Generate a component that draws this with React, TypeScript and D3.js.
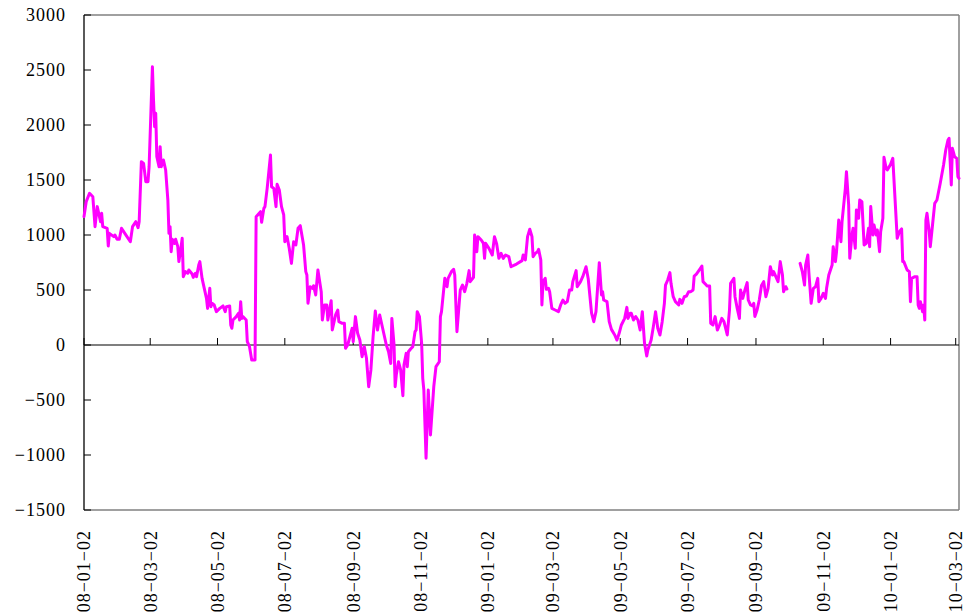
import React from 'react';
import * as d3 from 'd3';

// 2008
const dates2008 = [
  '01-02', '01-04', '01-07', '01-10', '01-12', '01-14', '01-17', '01-18', '01-19', '01-23', '01-24', '01-25', '01-29', '01-30',
  '02-01', '02-03', '02-05', '02-08', '02-13', '02-15', '02-18', '02-20', '02-21', '02-23', '02-25', '02-27', '02-29',
  '03-01', '03-04', '03-05', '03-06', '03-07', '03-08', '03-10', '03-11', '03-12', '03-14', '03-16', '03-18', '03-19', '03-20',
  '03-21', '03-22', '03-24', '03-25', '03-27', '03-28', '03-30', '03-31',
  '04-01', '04-03', '04-05', '04-06', '04-09', '04-10', '04-12', '04-13', '04-15', '04-16', '04-18', '04-20', '04-22', '04-23',
  '04-25', '04-26', '04-27', '04-29',
  '05-01', '05-04', '05-07', '05-09', '05-10', '05-13', '05-14', '05-15', '05-16', '05-19', '05-21', '05-22', '05-23', '05-24',
  '05-25', '05-28', '05-29', '05-31',
  '06-02', '06-03', '06-05', '06-06', '06-10', '06-11', '06-13', '06-14', '06-16', '06-19', '06-20', '06-22', '06-24', '06-25',
  '06-27', '06-29',
  '07-01', '07-02', '07-04', '07-06', '07-08', '07-10', '07-12', '07-14', '07-16', '07-19', '07-21', '07-22', '07-23', '07-25',
  '07-27', '07-28', '07-30',
  '08-01', '08-04', '08-05', '08-07', '08-09', '08-10', '08-13', '08-14', '08-17', '08-19', '08-20', '08-23', '08-25', '08-26',
  '08-28', '08-30',
  '09-01', '09-02', '09-04', '09-06', '09-08', '09-10', '09-12', '09-14', '09-16', '09-18', '09-20', '09-22', '09-24', '09-26',
  '09-28', '09-30',
  '10-02', '10-04', '10-06', '10-07', '10-09', '10-10', '10-11', '10-13', '10-15', '10-17', '10-18', '10-20', '10-21', '10-22',
  '10-24', '10-26', '10-28', '10-29', '10-30',
  '11-01', '11-03', '11-04', '11-05', '11-07', '11-09', '11-11', '11-14', '11-16', '11-19', '11-20', '11-21', '11-24', '11-26',
  '11-27', '11-30',
  '12-02', '12-03', '12-05', '12-08', '12-10', '12-12', '12-14', '12-16', '12-17', '12-20', '12-21', '12-23', '12-24', '12-27',
  '12-29', '12-30', '12-31',
];
const values2008 = [
  1167, 1303, 1379, 1348, 1076, 1258, 1121, 1197, 1076, 1061, 900, 1015, 985, 1000,
  961, 961, 1061, 1015, 939, 1076, 1121, 1067, 1121, 1667, 1651, 1485, 1485,
  1621, 2530, 2227, 1985, 2106, 1712, 1621, 1803, 1621, 1682, 1591, 1318, 1015, 1076,
  848, 961, 924, 961, 894, 758, 894, 970,
  621, 667, 652, 682, 645, 615, 652, 621, 727, 758, 606, 515, 424, 333,
  515, 348, 379, 364,
  303, 333, 355, 303, 348, 355, 182, 152, 227, 258, 288, 227, 394, 242,
  258, 227, 30, -15,
  -136, -136, -136, 1167, 1212, 1115, 1242, 1258, 1424, 1727, 1439, 1424, 1258, 1461,
  1409, 1258,
  1182, 939, 985, 879, 742, 939, 909, 1061, 1085, 909, 667, 636, 379, 530,
  515, 539, 455,
  682, 485, 227, 364, 364, 227, 403, 136, 273, 318, 212, 197, 197, -30,
  0, 76,
  152, 30, 258, 106, 45, -106, -15, -121, -379, -227, 76, 309, 136, 273,
  182, 91,
  0, -61, -167, 242, 0, -379, -273, -152, -227, -461, -182, -76, -197, -61,
  -36, -15, 121, 136, 303,
  258, 15, -303, -409, -1030, -409, -818, -379, -197, -152, 258, 303, 606, 530,
  606, 667,
  688, 636, 121, 500, 545, 485, 561, 676, 576, 615, 1000, 848, 985, 955,
  924, 788, 924,
];

// 2009 (null = no data, line breaks)
const dates2009 = [
  '01-03', '01-06', '01-08', '01-10', '01-12', '01-14', '01-16', '01-18', '01-21', '01-23', '01-28',
  '02-02', '02-03', '02-05', '02-07', '02-09', '02-11', '02-12', '02-14', '02-16', '02-17', '02-19', '02-20', '02-21', '02-23',
  '02-24', '02-26', '02-27',
  '03-01', '03-04', '03-07', '03-09', '03-11', '03-13', '03-15', '03-17', '03-19', '03-20', '03-23', '03-24', '03-27', '03-29',
  '04-01', '04-03', '04-06', '04-08', '04-10', '04-13', '04-15', '04-16', '04-17', '04-20', '04-22', '04-24', '04-27', '04-29',
  '05-01', '05-03', '05-06', '05-08', '05-09', '05-11', '05-12', '05-14', '05-16', '05-18', '05-20', '05-22', '05-24', '05-26',
  '05-27', '05-30',
  '06-01', '06-03', '06-05', '06-07', '06-09', '06-11', '06-12', '06-14', '06-16', '06-17', '06-19', '06-21', '06-24', '06-25',
  '06-27', '06-29',
  '07-01', '07-03', '07-05', '07-07', '07-08', '07-10', '07-13', '07-15', '07-16', '07-19', '07-20', '07-22', '07-23', '07-25',
  '07-27', '07-29', '07-31',
  '08-02', '08-04', '08-07', '08-09', '08-10', '08-13', '08-14', '08-16', '08-18', '08-19', '08-21', '08-23', '08-25', '08-26',
  '08-28', '08-30', '08-31',
  '09-01', '09-03', '09-05', '09-07', '09-09', '09-11', '09-13', '09-15', '09-17', '09-18', '09-20', '09-22', '09-24', '09-26',
  '09-27', '09-29', '09-30',
  '10-05', '10-12', '10-14', '10-16', '10-17', '10-19', '10-20', '10-22', '10-24', '10-26', '10-28', '10-29', '10-31',
  '11-02', '11-04', '11-05', '11-07', '11-10', '11-11', '11-13', '11-14', '11-16', '11-18', '11-19', '11-22', '11-23', '11-25',
  '11-26', '11-28', '11-29',
  '12-01', '12-02', '12-04', '12-05', '12-07', '12-09', '12-11', '12-13', '12-14', '12-15', '12-17', '12-18', '12-20', '12-21',
  '12-23', '12-24', '12-26', '12-27', '12-29', '12-30',
];
const values2009: (number | null)[] = [
  879, 818, 985, 918, 788, 833, 788, 818, 803, 712, 736,
  767, 818, 773, 985, 1052, 985, 803, 833, 848, 870, 773, 364, 576, 606,
  506, 515, 485,
  333, 318, 303, 364, 409, 379, 394, 500, 500, 576, 676, 530, 576, 621,
  712, 600, 290, 212, 303, 748, 455, 485, 409, 394, 212, 142, 91, 45,
  106, 182, 242, 342, 242, 288, 288, 227, 258, 227, 136, 303, 15, -100,
  -45, 45,
  167, 303, 152, 91, 212, 379, 545, 591, 658, 561, 439, 394, 364, 415,
  379, 439,
  445, 485, 485, 500, 627, 645, 688, 718, 576, 545, 536, 536, 197, 182,
  258, 136, 182,
  242, 212, 91, 318, 561, 606, 439, 333, 242, 500, 424, 500, 567, 409,
  364, 355, 379,
  260, 318, 409, 540, 576, 439, 515, 712, 636, 667, 621, 576, 758, 636,
  485, 530, 509,
  null, 742, 667, 545, 727, 818, 652, 379, 515, 530, 606, 394, 424,
  470, 424, 515, 636, 727, 894, 758, 848, 1136, 939, 1121, 1424, 1576, 1273,
  788, 1000, 1061,
  879, 1227, 1152, 1318, 1303, 909, 924, 1061, 894, 1258, 1000, 1091, 1000, 1045,
  848, 1030, 1152, 1706, 1606, 1591,
];

// 2010
const dates2010 = [
  '01-02', '01-04', '01-06', '01-08', '01-10', '01-12', '01-13', '01-14', '01-17', '01-19', '01-20', '01-21', '01-24', '01-26',
  '01-27', '01-28', '01-29', '01-31',
  '02-01', '02-02', '02-03', '02-04', '02-06', '02-07', '02-09', '02-11', '02-13', '02-16', '02-19', '02-21', '02-23', '02-24',
  '02-26', '02-27', '02-28',
  '03-01', '03-03', '03-04', '03-05',
];
const values2010 = [
  1642, 1697, 1333, 970, 1030, 1055, 758, 758, 682, 667, 394, 606, 621, 621,
  364, 333, 394, 303,
  364, 227, 1136, 1197, 1030, 894, 1091, 1288, 1318, 1470, 1636, 1773, 1864, 1879,
  1455, 1788, 1752,
  1712, 1697, 1530, 1515,
];

const tickDates = [
  '2008-01-02', '2008-03-02', '2008-05-02', '2008-07-02', '2008-09-02', '2008-11-02',
  '2009-01-02', '2009-03-02', '2009-05-02', '2009-07-02', '2009-09-02', '2009-11-02',
  '2010-01-02', '2010-03-02',
];
const tickLabels = [
  '08−01−02', '08−03−02', '08−05−02', '08−07−02', '08−09−02', '08−11−02',
  '09−01−02', '09−03−02', '09−05−02', '09−07−02', '09−09−02', '09−11−02',
  '10−01−02', '10−03−02',
];
const yTicks = [-1500, -1000, -500, 0, 500, 1000, 1500, 2000, 2500, 3000];

type Pt = { date: Date; value: number | null };

const parse = d3.timeParse('%Y-%m-%d');
const series: Pt[] = [
  ...dates2008.map((d, i) => ({ date: parse('2008-' + d)!, value: values2008[i] })),
  ...dates2009.map((d, i) => ({ date: parse('2009-' + d)!, value: values2009[i] })),
  ...dates2010.map((d, i) => ({ date: parse('2010-' + d)!, value: values2010[i] })),
];

const W = 969;
const H = 615;
const M = { left: 84, top: 15, right: 959, bottom: 510 };
const FONT = "'Liberation Serif', 'Times New Roman', serif";

export default function App() {
  const x = d3.scaleTime()
    .domain([parse('2008-01-02')!, parse('2010-03-05')!])
    .range([M.left, M.right]);
  const y = d3.scaleLinear().domain([-1500, 3000]).range([M.bottom, M.top]);

  const line = d3.line<Pt>()
    .defined(d => d.value !== null)
    .x(d => x(d.date))
    .y(d => y(d.value as number));

  const fmt = (v: number) => (v < 0 ? '−' + Math.abs(v) : String(v));
  const y0 = y(0);

  return (
    <div>
      <style>{'body{margin:0;}'}</style>
      <svg width={W} height={H} style={{ display: 'block', background: '#fff' }}>
        {/* frame */}
        <line x1={M.left} x2={M.right} y1={M.top} y2={M.top} stroke="#808080" strokeWidth={1.5} />
        <line x1={M.right} x2={M.right} y1={M.top} y2={M.bottom} stroke="#808080" strokeWidth={1.5} />
        <line x1={M.left} x2={M.right} y1={M.bottom} y2={M.bottom} stroke="#808080" strokeWidth={1.5} />

        {/* y axis */}
        <line x1={M.left} x2={M.left} y1={M.top} y2={M.bottom} stroke="#000" strokeWidth={1.3} />
        {yTicks.map(t => (
          <g key={t}>
            <line x1={M.left} x2={M.left + 7} y1={y(t)} y2={y(t)} stroke="#000" strokeWidth={1} />
            <text
              x={66}
              y={y(t)}
              dy="0.35em"
              textAnchor="end"
              fontFamily={FONT}
              fontSize={18}
              letterSpacing={1}
              fill="#000"
            >
              {fmt(t)}
            </text>
          </g>
        ))}

        {/* zero line with ticks */}
        <line x1={M.left} x2={M.right} y1={y0} y2={y0} stroke="#000" strokeWidth={1.2} />
        {tickDates.map((d, i) => {
          const tx = x(parse(d)!);
          return (
            <g key={d}>
              <line x1={tx} x2={tx} y1={y0} y2={y0 - 7} stroke="#000" strokeWidth={1} />
              <text
                transform={`translate(${tx},530) rotate(-90)`}
                dy="0.35em"
                textAnchor="end"
                fontFamily={FONT}
                fontSize={18}
                letterSpacing={1}
                fill="#000"
              >
                {tickLabels[i]}
              </text>
            </g>
          );
        })}

        {/* series */}
        <path
          d={line(series) || ''}
          fill="none"
          stroke="#ff00ff"
          strokeWidth={3}
          strokeLinejoin="round"
          strokeLinecap="round"
        />
      </svg>
    </div>
  );
}
